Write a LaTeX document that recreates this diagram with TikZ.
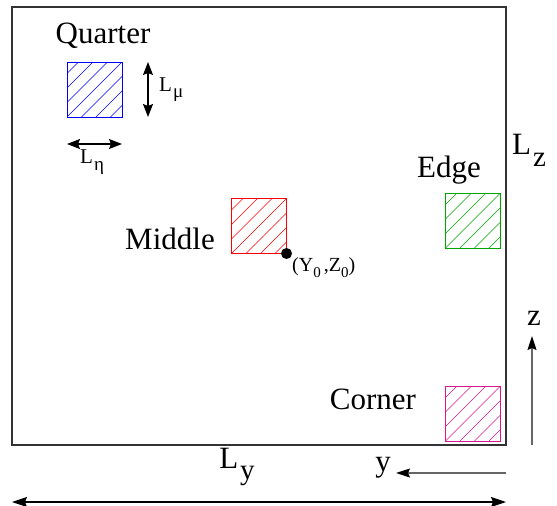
\documentclass[tikz,border=0pt]{standalone}
\usepackage{fontspec}
\setmainfont{Liberation Serif}
\usetikzlibrary{arrows.meta}
\tikzset{
  hatchbox/.style={draw=#1, line width=0.9pt, minimum size=55pt, inner sep=0pt,
    path picture={\foreach \k in {-5,...,5}
      \draw[#1, line width=0.6pt] ([xshift=\k*14.5pt]path picture bounding box.south west) -- ++(75pt,75pt);}},
  biglbl/.style={font=\fontsize{31}{36}\selectfont, inner sep=0pt},
  smalllbl/.style={font=\fontsize{21}{25}\selectfont, inner sep=0pt},
  dimarrow/.style={line width=1.2pt, {Stealth[length=13pt,width=10pt,inset=2pt]}-{Stealth[length=13pt,width=10pt,inset=2pt]}},
  axisarrow/.style={draw=black!60, line width=1.3pt, -{Stealth[length=14pt,width=9pt,inset=2pt,color=black]}},
}
\begin{document}
\begin{tikzpicture}[x=1pt,y=-1pt]
\useasboundingbox (0,0) rectangle (557,506);
% domain
\node[draw=black!80, line width=1.2pt, minimum width=494pt, minimum height=438pt, inner sep=0pt] (domain) at (259,226) {};
% boxes
\node[hatchbox=blue] (quarter) at (94.5,89.5) {};
\node[hatchbox=red] (middle) at (259,226) {};
\node[hatchbox={green!65!black}] (edge) at (473,220.5) {};
\node[hatchbox={magenta!90!black}] (corner) at (473,413.5) {};
% origin point
\node[circle, fill=black, minimum size=11pt, inner sep=0pt] (origin) at (286.5,253.5) {};
% labels
\node[biglbl] (qlabel) at (103,36) {Quarter};
\node[biglbl] (mlabel) at (170,239) {Middle};
\node[biglbl] (elabel) at (449,170) {Edge};
\node[biglbl] (clabel) at (373,399) {Corner};
\node[font=\fontsize{20}{24}\selectfont, inner sep=0pt, anchor=west] (y0z0) at (292,268) {(Y\raisebox{-0.3em}{\fontsize{15}{15}\selectfont 0}\kern3pt,Z\raisebox{-0.3em}{\fontsize{15}{15}\selectfont 0})};
\node[biglbl, anchor=west] (lz) at (512,150) {L\kern2pt\raisebox{-0.38em}{\fontsize{29}{29}\selectfont z}};
\node[biglbl] (ly) at (237,467) {L\kern2pt\raisebox{-0.38em}{\fontsize{29}{29}\selectfont y}};
\node[smalllbl, anchor=west] (lmu) at (159,90) {L\kern1pt\raisebox{-0.3em}{\fontsize{19}{19}\selectfont μ}};
\node[smalllbl, anchor=west] (leta) at (80,162) {L\kern1pt\raisebox{-0.35em}{\fontsize{19}{19}\selectfont η}};
\node[biglbl] (zlabel) at (534,318) {z};
\node[biglbl] (ylabel) at (383,468) {y};
% dimension arrows
\coordinate (mutop) at (148,62);
\coordinate (mubot) at (148,117);
\draw[dimarrow] (mutop) -- (mubot);
\coordinate (etal) at (67,144);
\coordinate (etar) at (122,144);
\draw[dimarrow] (etal) -- (etar);
\coordinate (lyl) at (12,502);
\coordinate (lyr) at (506,502);
\draw[dimarrow, {Stealth[length=15pt,width=10pt,inset=2pt]}-{Stealth[length=15pt,width=10pt,inset=2pt]}] (lyl) -- (lyr);
% axis arrows
\coordinate (zbase) at (532,445);
\coordinate (ztip) at (532,336);
\draw[axisarrow] (zbase) -- (ztip);
\coordinate (ybase) at (506,473);
\coordinate (ytip) at (396,473);
\draw[axisarrow] (ybase) -- (ytip);
\end{tikzpicture}
\end{document}
